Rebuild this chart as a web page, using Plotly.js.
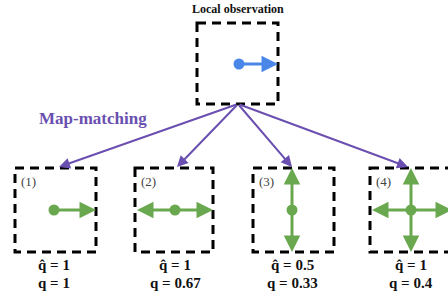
<!DOCTYPE html>
<html><head><meta charset="utf-8">
<script src="https://cdn.plot.ly/plotly-3.0.1.min.js"></script>
<style>html,body{margin:0;padding:0;background:#fff}</style>
</head><body><div id="chart" style="width:448px;height:298px"></div>
<script>
// ---- data ----
const panelLabels = ["(1)", "(2)", "(3)", "(4)"];
const qhatValues = ["1", "1", "0.5", "1"];
const qValues = ["1", "0.67", "0.33", "0.4"];
// allowed moves per panel: R=right, L=left, U=up, D=down
const panelMoves = [["R"], ["L", "R"], ["U", "D"], ["L", "R", "U", "D"]];
const observedMoves = ["R"];
const titleText = "Local observation";
const arrowLabel = "Map-matching";

// ---- layout geometry ----
const W = 448, H = 298;
const topBox = {x0: 197, x1: 278, y0: 23, y1: 104, cx: 239, cy: 64};
const boxes = [
  {x0: 15, x1: 96, cx: 54, tip: 59},
  {x0: 135, x1: 213, cx: 175, tip: 177},
  {x0: 253, x1: 334, cx: 292, tip: 292},
  {x0: 370, x1: 452, cx: 411, tip: 408}
];
const by0 = 168, by1 = 252, bcy = 210;
const green = "#6aa84f", blue = "#4a86e8", purple = "#6a4fb0";
const serif = "Liberation Serif";

const shapes = [];
const annotations = [];
function dashedBox(x0, x1, y0, y1) {
  shapes.push({type: "rect", xref: "x", yref: "y", x0, x1, y0, y1,
    line: {color: "#000", width: 3, dash: "9px,6px"}, fillcolor: "rgba(0,0,0,0)"});
}
function arrow(xt, yt, xs, ys, color, w, size) {
  annotations.push({x: xt, y: yt, ax: xs, ay: ys, xref: "x", yref: "y", axref: "x", ayref: "y",
    text: "", showarrow: true, arrowhead: 2, arrowsize: size, arrowwidth: w, arrowcolor: color, standoff: 0});
}
function moveEnds(cx, cy, x0, x1, y0, y1, m) {
  if (m === "R") return [x1, cy];
  if (m === "L") return [x0 + 2, cy];
  if (m === "U") return [cx, y0];
  return [cx, y1];
}

// top box
dashedBox(topBox.x0, topBox.x1, topBox.y0, topBox.y1);
observedMoves.forEach(m => {
  const [ex, ey] = moveEnds(topBox.cx, topBox.cy, topBox.x0, topBox.x1, topBox.y0, topBox.y1, m);
  arrow(ex, ey, topBox.cx, topBox.cy, blue, 3, 1.1);
});
annotations.push({x: 238, y: 9, xref: "x", yref: "y", text: titleText, showarrow: false,
  font: {family: serif, size: 12, color: "#111", weight: 600}});
annotations.push({x: 93, y: 118, xref: "x", yref: "y", text: arrowLabel, showarrow: false,
  font: {family: serif, size: 17, color: purple, weight: 600}});

const dotX = [topBox.cx], dotY = [topBox.cy], dotC = [blue];
boxes.forEach((b, i) => {
  dashedBox(b.x0, b.x1, by0, by1);
  arrow(b.tip, by0 - 1, 238, 104, purple, 2, 1.1);
  panelMoves[i].forEach(m => {
    const [ex, ey] = moveEnds(b.cx, bcy, b.x0, b.x1, by0, by1, m);
    arrow(ex, ey, b.cx, bcy, green, 3, 1.1);
  });
  dotX.push(b.cx); dotY.push(bcy); dotC.push(green);
  annotations.push({x: b.x0 + 4, y: 181, xref: "x", yref: "y", xanchor: "left", text: panelLabels[i], showarrow: false,
    font: {family: serif, size: 13, color: "#444"}});
  annotations.push({x: b.cx, y: 265, xref: "x", yref: "y", text: "q\u0302 = " + qhatValues[i], showarrow: false,
    font: {family: serif, size: 15, color: "#111", weight: 600}});
  annotations.push({x: b.cx, y: 283, xref: "x", yref: "y", text: "q = " + qValues[i], showarrow: false,
    font: {family: serif, size: 15, color: "#111", weight: 600}});
});

const trace = {x: dotX, y: dotY, type: "scatter", mode: "markers", hoverinfo: "skip",
  marker: {size: 11, color: dotC, line: {width: 0}}, cliponaxis: false};

const layout = {
  width: W, height: H, margin: {l: 0, r: 0, t: 0, b: 0},
  paper_bgcolor: "#fff", plot_bgcolor: "#fff", showlegend: false,
  xaxis: {range: [0, W], visible: false, fixedrange: true},
  yaxis: {range: [H, 0], visible: false, fixedrange: true},
  shapes, annotations
};
Plotly.newPlot("chart", [trace], layout, {staticPlot: true, displayModeBar: false});
</script></body></html>
